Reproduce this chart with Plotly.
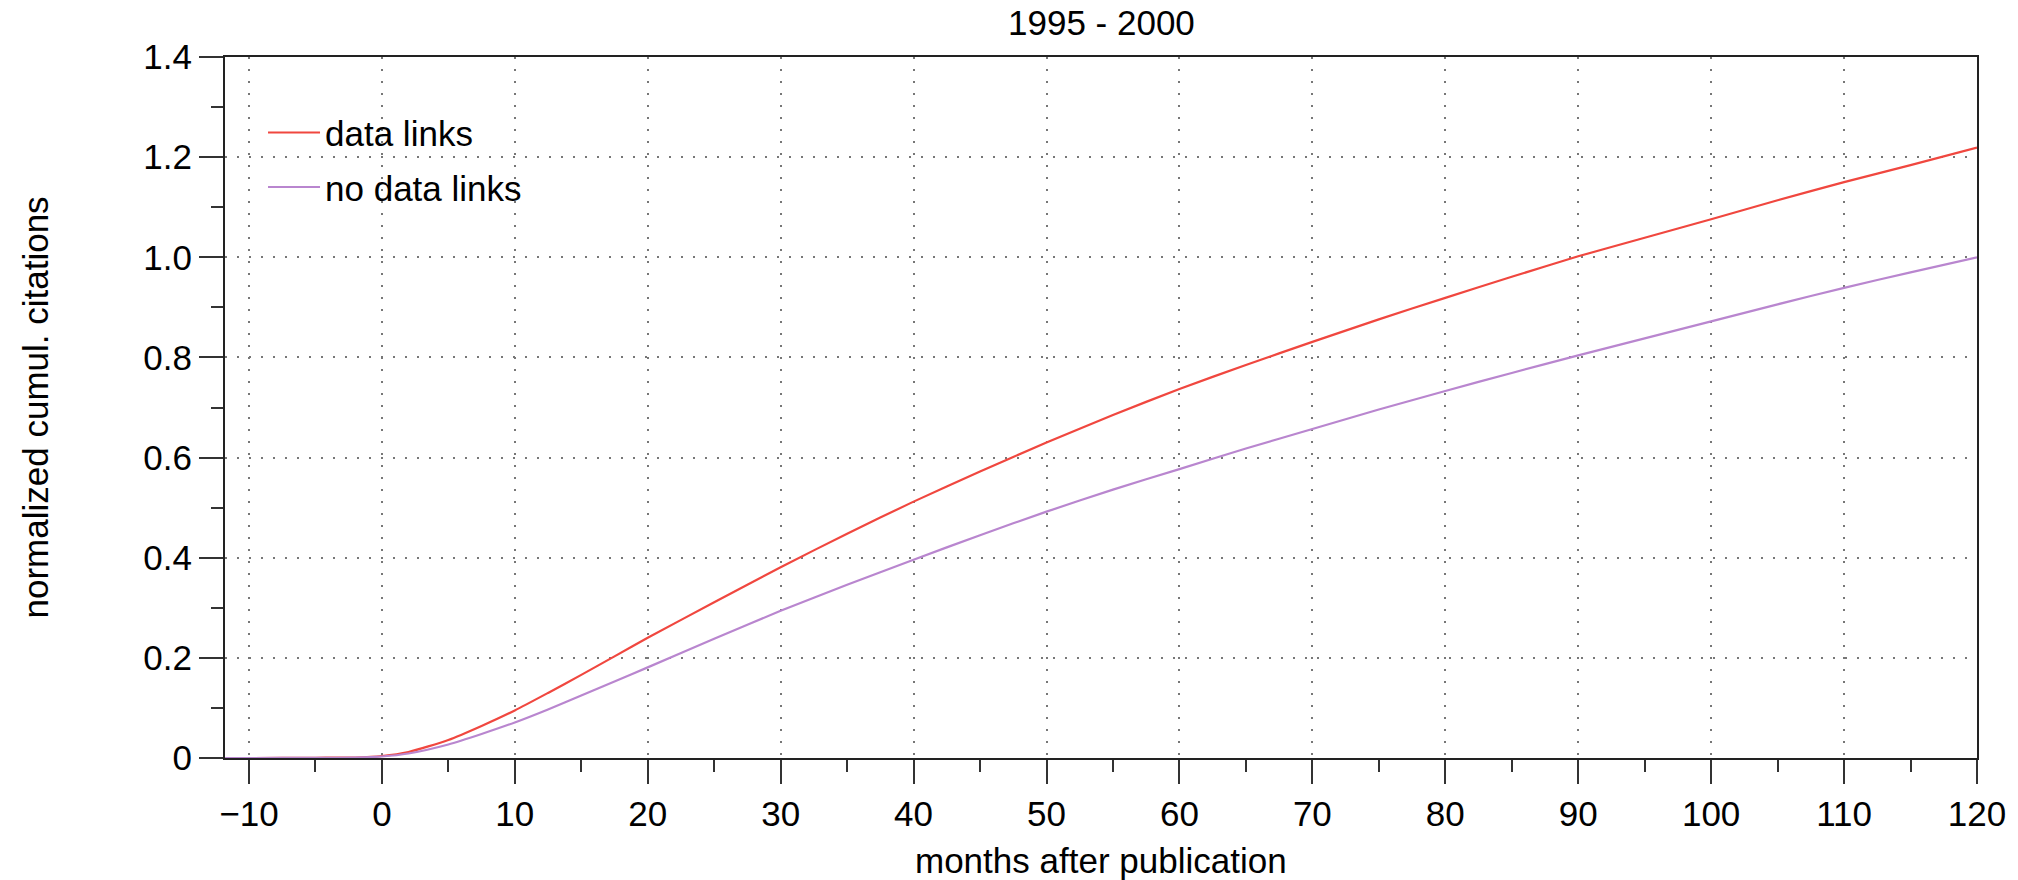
import plotly.graph_objects as go

months = [-12, -10, -5, -2, 0, 2, 5, 7.5, 10, 12.5, 15, 17.5, 20, 25, 30, 35, 40, 45, 50,
          55, 60, 65, 70, 75, 80, 85, 90, 95, 100, 105, 110, 115, 120]
data_links = [0, 0, 0.0005, 0.001, 0.004, 0.012, 0.036, 0.064, 0.095, 0.130, 0.166, 0.203,
              0.240, 0.311, 0.381, 0.448, 0.512, 0.572, 0.630, 0.685, 0.737, 0.785, 0.831,
              0.876, 0.919, 0.961, 1.002, 1.039, 1.076, 1.114, 1.150, 1.184, 1.219]
no_data_links = [0, 0, 0.0004, 0.0008, 0.003, 0.009, 0.027, 0.048, 0.071, 0.097, 0.125, 0.153,
                 0.181, 0.238, 0.294, 0.346, 0.396, 0.445, 0.492, 0.536, 0.577, 0.618, 0.657,
                 0.696, 0.733, 0.769, 0.804, 0.838, 0.872, 0.906, 0.939, 0.970, 1.000]

title_text = "1995 - 2000"
x_title = "months after publication"
y_title = "normalized cumul. citations"

FONT = "Liberation Sans, Arial, Helvetica, sans-serif"

fig = go.Figure()
fig.add_trace(go.Scatter(x=months, y=data_links, mode="lines", name="data links",
                         legendgroup="a",
                         line=dict(color="#F0473F", width=2.2, shape="spline", smoothing=0.6)))
fig.add_trace(go.Scatter(x=months, y=no_data_links, mode="lines", name="no data links",
                         legendgroup="b",
                         line=dict(color="#B986CF", width=2.2, shape="spline", smoothing=0.6)))

axis_common = dict(
    showline=True, mirror=True, linecolor="#222", linewidth=2,
    ticks="outside", ticklen=24, tickwidth=2, tickcolor="#333",
    showgrid=True, gridcolor="#777", gridwidth=1.5, griddash="2px,10px",
    zeroline=False,
    tickfont=dict(family=FONT, size=35, color="black"),
)

fig.update_xaxes(range=[-11.8, 120], tick0=0, dtick=10,
                 minor=dict(ticks="outside", ticklen=12, tickwidth=2, tickcolor="#333",
                            dtick=5, tick0=0, showgrid=False),
                 **axis_common)
fig.update_yaxes(range=[0, 1.4], tick0=0, dtick=0.2,
                 minor=dict(ticks="outside", ticklen=12, tickwidth=2, tickcolor="#333",
                            dtick=0.1, tick0=0, showgrid=False),
                 **axis_common)
fig.update_yaxes(tickvals=[0, 0.2, 0.4, 0.6, 0.8, 1.0, 1.2, 1.4],
                 ticktext=["0", "0.2", "0.4", "0.6", "0.8", "1.0", "1.2", "1.4"])
fig.update_xaxes(tickvals=list(range(-10, 121, 10)),
                 ticktext=["\u221210"] + [str(v) for v in range(0, 121, 10)])

fig.update_layout(
    width=2018, height=880,
    margin=dict(l=225, r=39, t=57, b=122),
    paper_bgcolor="white", plot_bgcolor="white",
    font=dict(family=FONT, color="black"),
    showlegend=True,
    legend=dict(x=0.0217, y=0.934, xanchor="left", yanchor="top",
                bgcolor="rgba(0,0,0,0)", font=dict(family=FONT, size=35, color="black"),
                itemwidth=52, tracegroupgap=6, traceorder="grouped"),
    annotations=[
        dict(text=title_text, xref="paper", yref="paper", x=0.5, y=1.0, yshift=35,
             showarrow=False, xanchor="center", yanchor="middle",
             font=dict(family=FONT, size=35, color="black")),
        dict(text=x_title, xref="paper", yref="paper", x=0.5, y=0, yshift=-102,
             showarrow=False, xanchor="center", yanchor="middle",
             font=dict(family=FONT, size=35, color="black")),
        dict(text=y_title, xref="paper", yref="paper", x=0, xshift=-190, y=0.5,
             showarrow=False, xanchor="center", yanchor="middle", textangle=-90,
             font=dict(family=FONT, size=35, color="black")),
    ],
)

fig.write_html("out.html")
